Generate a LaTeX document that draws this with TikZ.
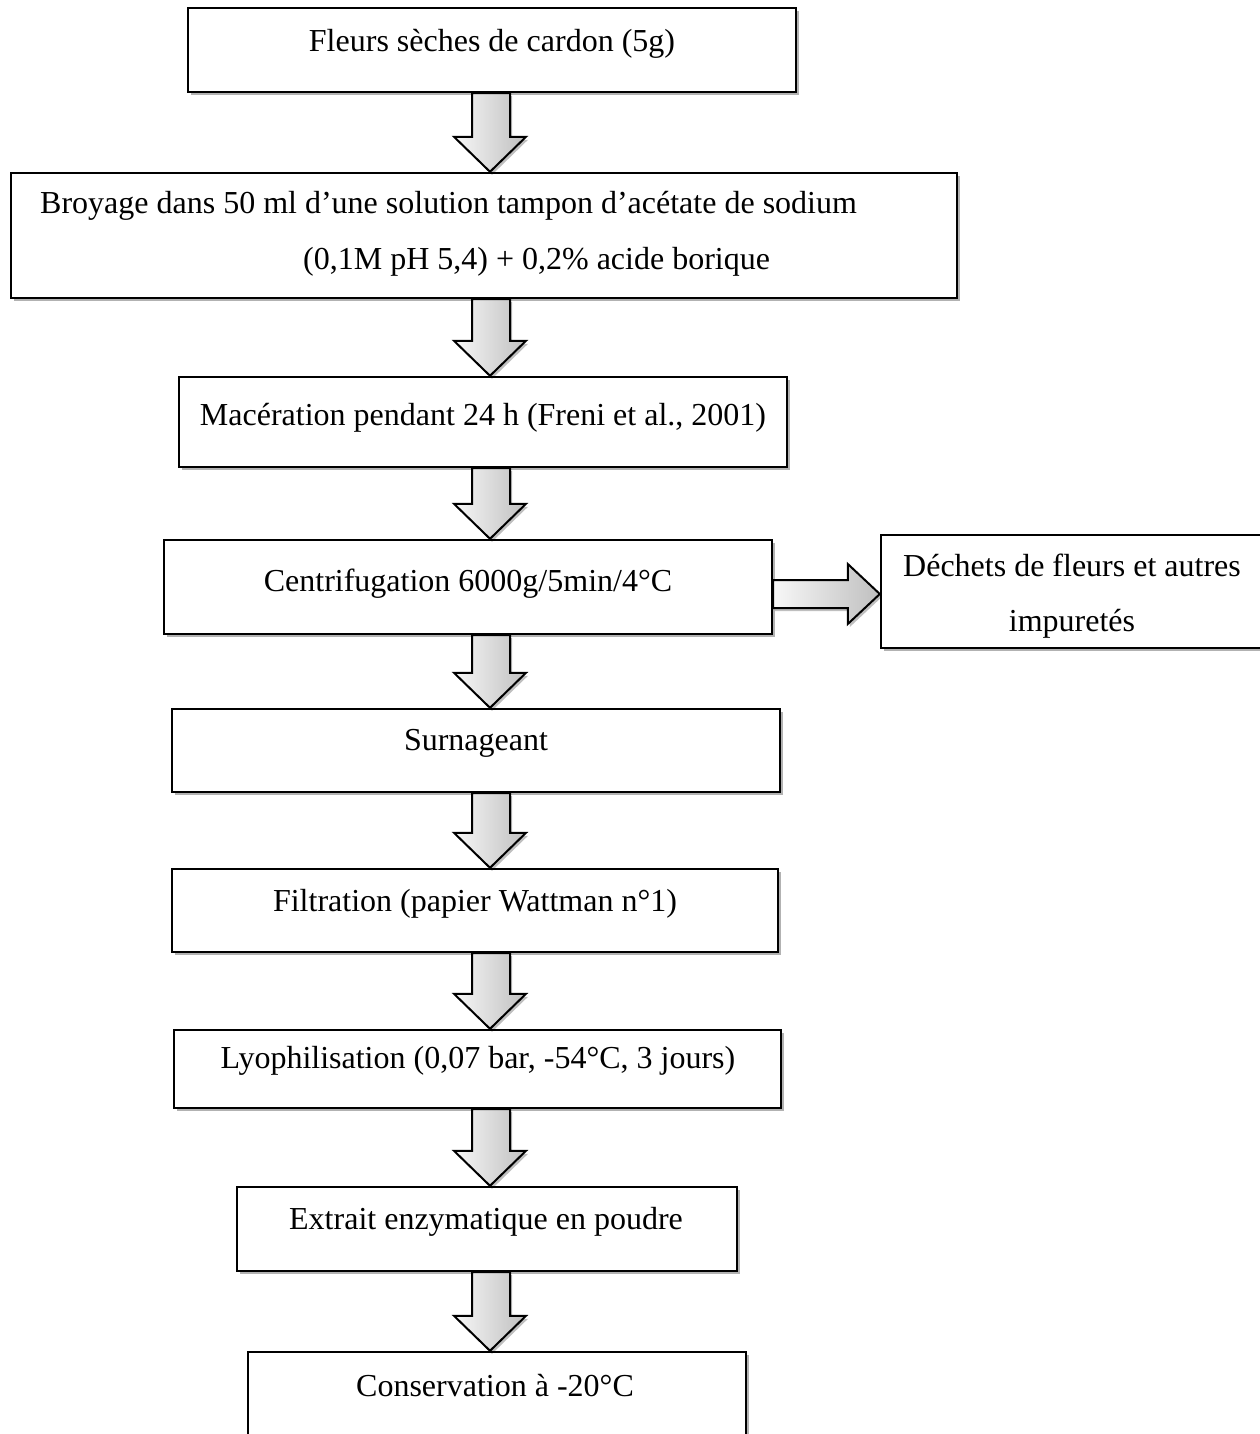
\documentclass[tikz,border=0pt]{standalone}
\usepackage{fontspec}
\setmainfont{Liberation Serif}
\usetikzlibrary{calc,shadows}
\tikzset{
  box/.style={draw=black, line width=2.4pt, fill=white, inner sep=0pt,
    drop shadow={shadow xshift=2.5pt, shadow yshift=-3pt, opacity=0.3, fill=black}},
  lbl/.style={anchor=base, inner sep=0pt, font=\fontsize{32}{39}\selectfont},
  blockarrow/.style={draw=black, line width=2pt, line join=miter,
    left color=gray!6, right color=gray!50,
    drop shadow={shadow xshift=2pt, shadow yshift=-3pt, opacity=0.25, fill=black}}
}
\newcommand\downblock[2]{%
  \path let \p1=(#1.south), \p2=(#2.north) in
    [blockarrow] (472,\y1) -- (510,\y1) -- (510,\y2+35) -- (526,\y2+35)
    -- (490,\y2) -- (454,\y2+35) -- (472,\y2+35) -- cycle;}
\begin{document}
\begin{tikzpicture}[x=1pt,y=-1pt]
\useasboundingbox[fill=white] (0,0) rectangle (1260,1434);
% boxes
\node[box, minimum width=608, minimum height=84]  (b1) at (492,50) {};
\node[box, minimum width=946, minimum height=125] (b2) at (484,235.5) {};
\node[box, minimum width=608, minimum height=90]  (b3) at (483,422) {};
\node[box, minimum width=608, minimum height=94]  (b4) at (468,587) {};
\node[box, minimum width=384, minimum height=113] (bs) at (1073,591.5) {};
\node[box, minimum width=608, minimum height=83]  (b5) at (476,750.5) {};
\node[box, minimum width=606, minimum height=83]  (b6) at (475,910.5) {};
\node[box, minimum width=607, minimum height=78]  (b7) at (477.5,1069) {};
\node[box, minimum width=500, minimum height=84]  (b8) at (487,1229) {};
\node[box, minimum width=498, minimum height=108] (b9) at (497,1406) {};
% texts
\node[lbl] (t1) at (492,52) {Fleurs sèches de cardon (5g)};
\node[lbl, anchor=base west] (t2a) at (40,214) {Broyage dans 50 ml d’une solution tampon d’acétate de sodium};
\node[lbl, anchor=base west] (t2b) at (303,269) {(0,1M pH 5,4) + 0,2\% acide borique};
\node[lbl] (t3) at (483,425) {Macération pendant 24 h (Freni et al., 2001)};
\node[lbl] (t4) at (468,591) {Centrifugation 6000g/5min/4°C};
\node[lbl] (ts1) at (1072,576) {Déchets de fleurs et autres};
\node[lbl] (ts2) at (1072,631) {impuretés};
\node[lbl] (t5) at (476,750) {Surnageant};
\node[lbl] (t6) at (475,911) {Filtration (papier Wattman n°1)};
\node[lbl] (t7) at (478,1068) {Lyophilisation (0,07 bar, -54°C, 3 jours)};
\node[lbl] (t8) at (486,1229) {Extrait enzymatique en poudre};
\node[lbl] (t9) at (495,1396) {Conservation à -20°C};
% block arrows
\downblock{b1}{b2}
\downblock{b2}{b3}
\downblock{b3}{b4}
\downblock{b4}{b5}
\downblock{b5}{b6}
\downblock{b6}{b7}
\downblock{b7}{b8}
\downblock{b8}{b9}
\path let \p1=(b4.east), \p2=(bs.west) in
  [blockarrow] (\x1,580) -- (\x2-32,580) -- (\x2-32,564) -- (\x2,594)
  -- (\x2-32,624) -- (\x2-32,608) -- (\x1,608) -- cycle;
\end{tikzpicture}
\end{document}
